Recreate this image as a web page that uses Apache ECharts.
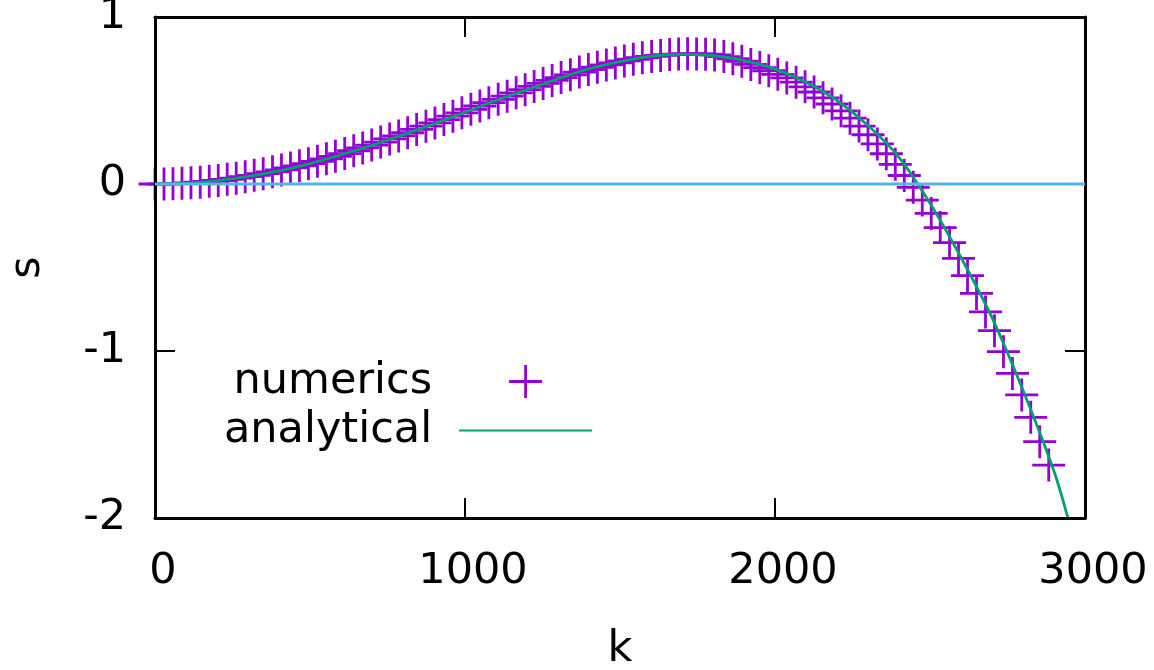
<!DOCTYPE html>
<html>
<head>
<meta charset="utf-8">
<script src="https://cdn.jsdelivr.net/npm/echarts@6/dist/echarts.min.js"></script>
<style>
  html, body { margin: 0; padding: 0; background: #fff; }
  #chart { width: 1154px; height: 670px; }
</style>
</head>
<body>
<div id="chart"></div>
<script>
// numerical solution: wavenumber k and growth rate s
const numericK = [
  0, 29, 58, 87, 116, 146, 175, 204, 233, 262,
  291, 320, 349, 379, 408, 437, 466, 495, 524, 553,
  582, 612, 641, 670, 699, 728, 757, 786, 815, 844,
  874, 903, 932, 961, 990, 1019, 1048, 1077, 1107, 1136,
  1165, 1194, 1223, 1252, 1281, 1310, 1340, 1369, 1398, 1427,
  1456, 1485, 1514, 1543, 1572, 1602, 1631, 1660, 1689, 1718,
  1747, 1776, 1805, 1835, 1864, 1893, 1922, 1951, 1980, 2009,
  2038, 2068, 2097, 2126, 2155, 2184, 2213, 2242, 2271, 2300,
  2330, 2359, 2388, 2417, 2446, 2475, 2504, 2533, 2563, 2592,
  2621, 2650, 2679, 2708, 2737, 2766, 2796, 2825, 2854, 2883
];
const numericS = [
  0, 0.000, 0.002, 0.004, 0.007, 0.011, 0.016, 0.021, 0.028, 0.035,
  0.044, 0.052, 0.062, 0.073, 0.084, 0.096, 0.109, 0.122, 0.136, 0.151,
  0.166, 0.182, 0.199, 0.216, 0.233, 0.251, 0.270, 0.288, 0.307, 0.327,
  0.346, 0.366, 0.386, 0.406, 0.426, 0.447, 0.467, 0.487, 0.507, 0.526,
  0.546, 0.565, 0.584, 0.602, 0.620, 0.637, 0.654, 0.670, 0.685, 0.699,
  0.713, 0.725, 0.737, 0.747, 0.756, 0.764, 0.770, 0.775, 0.778, 0.780,
  0.779, 0.777, 0.773, 0.763, 0.750, 0.735, 0.716, 0.697, 0.678, 0.657,
  0.635, 0.610, 0.582, 0.551, 0.516, 0.479, 0.438, 0.394, 0.347, 0.295,
  0.240, 0.181, 0.118, 0.051, -0.020, -0.096, -0.176, -0.261, -0.351, -0.445,
  -0.549, -0.655, -0.766, -0.878, -1.004, -1.134, -1.263, -1.397, -1.543, -1.683
];

// analytical dispersion curve
const analyticK = [
  0, 100, 200, 300, 400, 500, 600, 700, 800, 900,
  1000, 1100, 1200, 1300, 1400, 1500, 1600, 1700, 1800, 1900,
  2000, 2100, 2200, 2300, 2400, 2500, 2600, 2700, 2800, 2900, 2945
];
const analyticS = [
  0, 0.005, 0.020, 0.045, 0.078, 0.122, 0.175, 0.232, 0.295, 0.360,
  0.430, 0.500, 0.565, 0.630, 0.690, 0.733, 0.765, 0.777, 0.768, 0.740,
  0.688, 0.610, 0.500, 0.350, 0.160, -0.115, -0.440, -0.800, -1.235, -1.720, -2.000
];

// reference line s = 0
const zeroK = [0, 3000];
const zeroS = [0, 0];

const xTicks = { min: 0, max: 3000, interval: 1000 };
const yTicks = { min: -2, max: 1, interval: 1 };

const FONT = 'DejaVu Sans';
const FONT_SIZE = 43;
const pairs = (xs, ys) => xs.map((x, i) => [x, ys[i]]);
const plain = v => String(v);

const frameLine = { show: true, onZero: false, lineStyle: { color: '#000', width: 3 } };
const innerTick = { show: true, inside: true, length: 20, lineStyle: { color: '#000', width: 2 } };
const tickLabel = { color: '#000', fontSize: FONT_SIZE, fontFamily: FONT, formatter: plain };

const chart = echarts.init(document.getElementById('chart'), null, { renderer: 'canvas' });
chart.setOption({
  animation: false,
  backgroundColor: '#fff',
  grid: { left: 155, top: 17, width: 930, height: 501, outerBoundsMode: 'none', containLabel: false },
  legend: {
    data: ['numerics', { name: 'analytical', itemStyle: { opacity: 0 } }],
    orient: 'vertical',
    align: 'right',
    left: 224,
    top: 360,
    padding: 0,
    itemWidth: 133,
    itemHeight: 33,
    itemGap: 6,
    selectedMode: false,
    textStyle: { color: '#000', fontSize: FONT_SIZE, fontFamily: FONT, lineHeight: 33, padding: [0, 22, 0, 0] }
  },
  xAxis: [
    {
      type: 'value', position: 'bottom', z: 5,
      min: xTicks.min, max: xTicks.max, interval: xTicks.interval,
      name: 'k', nameLocation: 'middle', nameGap: 110,
      nameTextStyle: { color: '#000', fontSize: FONT_SIZE, fontFamily: FONT },
      axisLine: frameLine, axisTick: innerTick,
      axisLabel: Object.assign({ margin: 32, padding: [0, 0, 0, 16] }, tickLabel),
      splitLine: { show: false }
    },
    {
      type: 'value', position: 'top', z: 5,
      min: xTicks.min, max: xTicks.max, interval: xTicks.interval,
      axisLine: frameLine, axisTick: innerTick,
      axisLabel: { show: false }, splitLine: { show: false }
    }
  ],
  yAxis: [
    {
      type: 'value', position: 'left', z: 5,
      min: yTicks.min, max: yTicks.max, interval: yTicks.interval,
      name: 's', nameLocation: 'middle', nameGap: 106, nameRotate: 90,
      nameTextStyle: { color: '#000', fontSize: FONT_SIZE, fontFamily: FONT },
      axisLine: frameLine, axisTick: innerTick,
      axisLabel: Object.assign({ margin: 29 }, tickLabel),
      splitLine: { show: false }
    },
    {
      type: 'value', position: 'right', z: 5,
      min: yTicks.min, max: yTicks.max, interval: yTicks.interval,
      axisLine: frameLine, axisTick: innerTick,
      axisLabel: { show: false }, splitLine: { show: false }
    }
  ],
  series: [
    {
      name: 'numerics',
      type: 'scatter',
      clip: false,
      symbol: 'path://M15.1,0H17.9V33H15.1ZM0,15.1H33V17.9H0Z',
      symbolSize: 33,
      symbolKeepAspect: true,
      itemStyle: { color: '#9400d3', opacity: 1 },
      data: pairs(numericK, numericS),
      z: 2
    },
    {
      name: 'analytical',
      type: 'line',
      symbol: 'none',
      smooth: 0.3,
      lineStyle: { color: '#009e73', width: 2.8 },
      itemStyle: { color: '#009e73' },
      data: pairs(analyticK, analyticS),
      z: 3
    },
    {
      name: 'zero',
      type: 'line',
      symbol: 'none',
      lineStyle: { color: '#56b4e9', width: 2.8 },
      data: pairs(zeroK, zeroS),
      z: 6
    }
  ]
});
</script>
</body>
</html>
